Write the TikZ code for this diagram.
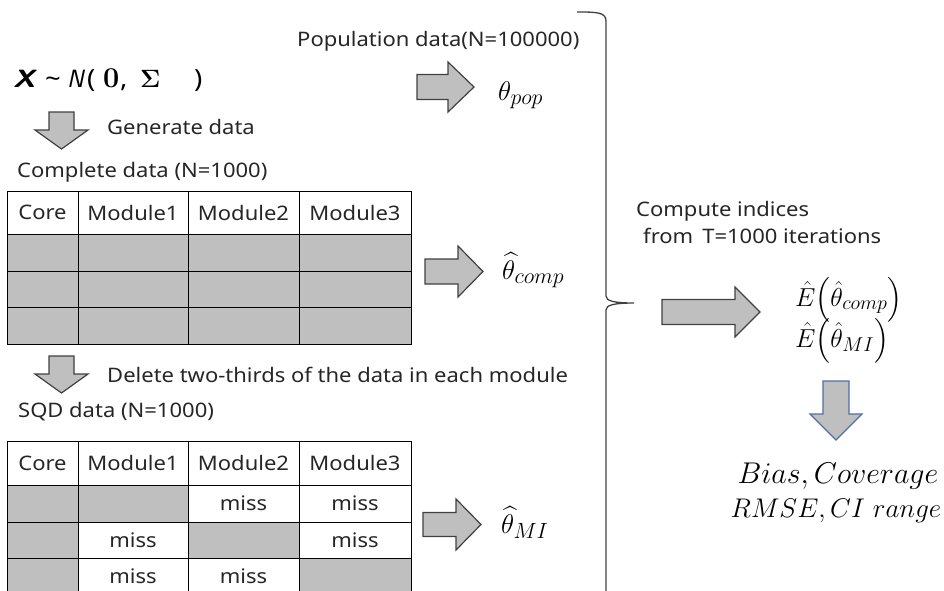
\RequirePackage{fix-cm}
\documentclass[tikz,border=0pt]{standalone}
\usepackage[no-math]{fontspec}
\usepackage{amsmath,bm}
\usepackage{graphicx}
\newfontfamily\labelfont[FakeStretch=1.1]{Noto Sans}
\DeclareMathSizes{27}{27}{22}{16}
\DeclareMathSizes{26}{26}{20}{15}
\DeclareMathSizes{30}{30}{22}{16}
\definecolor{cellgray}{HTML}{BFBFBF}
\definecolor{edgegray}{HTML}{404040}
\definecolor{arrowblue}{HTML}{4F6FA8}
\definecolor{inkgray}{HTML}{262626}
% put a piece of text at a fixed offset, then move on by #1
\newcommand\placepiece[2]{\makebox[0pt][l]{#2}\hspace{#1}}

\tikzset{
  lbl/.style={font=\labelfont\fontsize{20}{24}\selectfont, inner sep=0pt, anchor=base west, text=inkgray},
  mathlbl/.style={inner sep=0pt, anchor=base west, text=black},
  cell/.style={draw=black, line width=1pt, inner sep=0pt, text=inkgray,
    font=\labelfont\fontsize{20}{24}\selectfont},
  graycell/.style={cell, fill=cellgray},
  blockarrow/.style={fill=cellgray, draw=edgegray, line width=1.2pt, line join=miter},
  bracepath/.style={draw=edgegray, line width=1.3pt},
}

\begin{document}
\begin{tikzpicture}[x=1pt, y=-1pt]
  \useasboundingbox (0,0) rectangle (944,590);

  % ---- generating distribution and population estimate ----
  \node[mathlbl] (dist) at (13,87) {\fontsize{25}{28}\selectfont
    \placepiece{32pt}{\scalebox{1.2}[1]{\sffamily\bfseries\itshape X}}\placepiece{22pt}{\labelfont\textasciitilde}\placepiece{20pt}{\sffamily\itshape N}\placepiece{16pt}{\labelfont (}\placepiece{17pt}{\scalebox{1.15}{$\mathbf{0}$}}\placepiece{20pt}{\labelfont ,}\placepiece{54pt}{$\boldsymbol{\Sigma}$}{\labelfont )}};
  \node[lbl] (poplabel) at (297,46) {Population data(N=100000)};
  \draw[blockarrow] (417,74.5) -- (448,74.5) -- (448,62) -- (474,87) -- (448,112) -- (448,99.5) -- (417,99.5) -- cycle;
  \node[mathlbl] (thpop) at (498,100) {\fontsize{27}{30}\selectfont$\theta_{pop}$};

  % ---- complete data ----
  \draw[blockarrow] (49,112) -- (74,112) -- (74,130) -- (88,130) -- (61.5,149) -- (35,130) -- (49,130) -- cycle;
  \node[lbl] (gen) at (107,134) {Generate data};
  \node[lbl] (complabel) at (17,177) {Complete data (N=1000)};

  \foreach \cx/\w/\t [count=\i] in {42.5/71/Core, 133/110/Module1, 243.5/111/Module2, 355/112/Module3} {
    \node[cell, minimum width=\w pt, minimum height=43pt] (ch\i) at (\cx,212.5) {\t};
    \node[graycell, minimum width=\w pt, minimum height=37pt] (ca\i) at (\cx,252.5) {};
    \node[graycell, minimum width=\w pt, minimum height=36.5pt] (cb\i) at (\cx,289.25) {};
    \node[graycell, minimum width=\w pt, minimum height=36.5pt] (cc\i) at (\cx,325.75) {};
  }
  \draw[blockarrow] (425,259) -- (458,259) -- (458,246) -- (483,271.5) -- (458,297) -- (458,284) -- (425,284) -- cycle;
  \node[mathlbl] (thcomp) at (502,279) {\fontsize{27}{30}\selectfont$\widehat{\theta}_{comp}$};

  % ---- split questionnaire data ----
  \draw[blockarrow] (49,356) -- (74,356) -- (74,374) -- (88,374) -- (61.5,393) -- (35,374) -- (49,374) -- cycle;
  \node[lbl] (del) at (107,382) {Delete two-thirds of the data in each module};
  \node[lbl] (sqdlabel) at (18,417) {SQD data (N=1000)};

  \foreach \cx/\w/\t/\sa/\sb/\sc/\ta/\tb/\tc [count=\i] in {
      42.5/71/Core/graycell/graycell/graycell/{}/{}/{},
      133/110/Module1/graycell/cell/cell/{}/miss/miss,
      243.5/111/Module2/cell/graycell/cell/miss/{}/miss,
      355/112/Module3/cell/cell/graycell/miss/miss/{}} {
    \node[cell, minimum width=\w pt, minimum height=44pt] (sh\i) at (\cx,463) {\t};
    \node[\sa, minimum width=\w pt, minimum height=37pt] (sa\i) at (\cx,503.5) {\ta};
    \node[\sb, minimum width=\w pt, minimum height=36pt] (sb\i) at (\cx,540) {\tb};
    \node[\sc, minimum width=\w pt, minimum height=37pt] (sc\i) at (\cx,576.5) {\tc};
  }
  \draw[blockarrow] (423,512.5) -- (456,512.5) -- (456,499) -- (481,524.5) -- (456,550) -- (456,536.5) -- (423,536.5) -- cycle;
  \node[mathlbl] (thmi) at (501,533) {\fontsize{27}{30}\selectfont$\widehat{\theta}_{MI}$};

  % ---- brace gathering the three estimates ----
  \coordinate (bracetip) at (634,303);
  \draw[bracepath] (577,12) .. controls (596,12) and (606,12) .. (606,21) -- (606,296)
    .. controls (606,301) and (614,303) .. (bracetip)
    .. controls (614,303) and (606,305) .. (606,310) -- (606,600);

  % ---- summary over iterations ----
  \node[lbl] (compute) at (636,216) {Compute indices};
  \node[lbl] (iters) at (643,243) {from\hspace{9pt}T=1000 iterations};
  \draw[blockarrow] (662,299.5) -- (735,299.5) -- (735,287) -- (760,312) -- (735,337) -- (735,324.5) -- (662,324.5) -- cycle;
  \node[mathlbl] (ecomp) at (795,306) {\fontsize{26}{30}\selectfont$\hat{E}\Bigl(\hat{\theta}_{comp}\Bigr)$};
  \node[mathlbl] (emi) at (795,347) {\fontsize{26}{30}\selectfont$\hat{E}\Bigl(\hat{\theta}_{MI}\Bigr)$};
  \draw[fill=cellgray, draw=arrowblue, line width=1.2pt] (823,381) -- (849,381) -- (849,414) -- (862,414) -- (836,440) -- (810,414) -- (823,414) -- cycle;
  \node[mathlbl, anchor=base] (crit1) at (838,483) {\fontsize{30}{32}\selectfont$Bias,Coverage$};
  \node[mathlbl, anchor=base] (crit2) at (836,517) {\fontsize{27}{32}\selectfont$RMSE,CI\ range$};
\end{tikzpicture}
\end{document}
